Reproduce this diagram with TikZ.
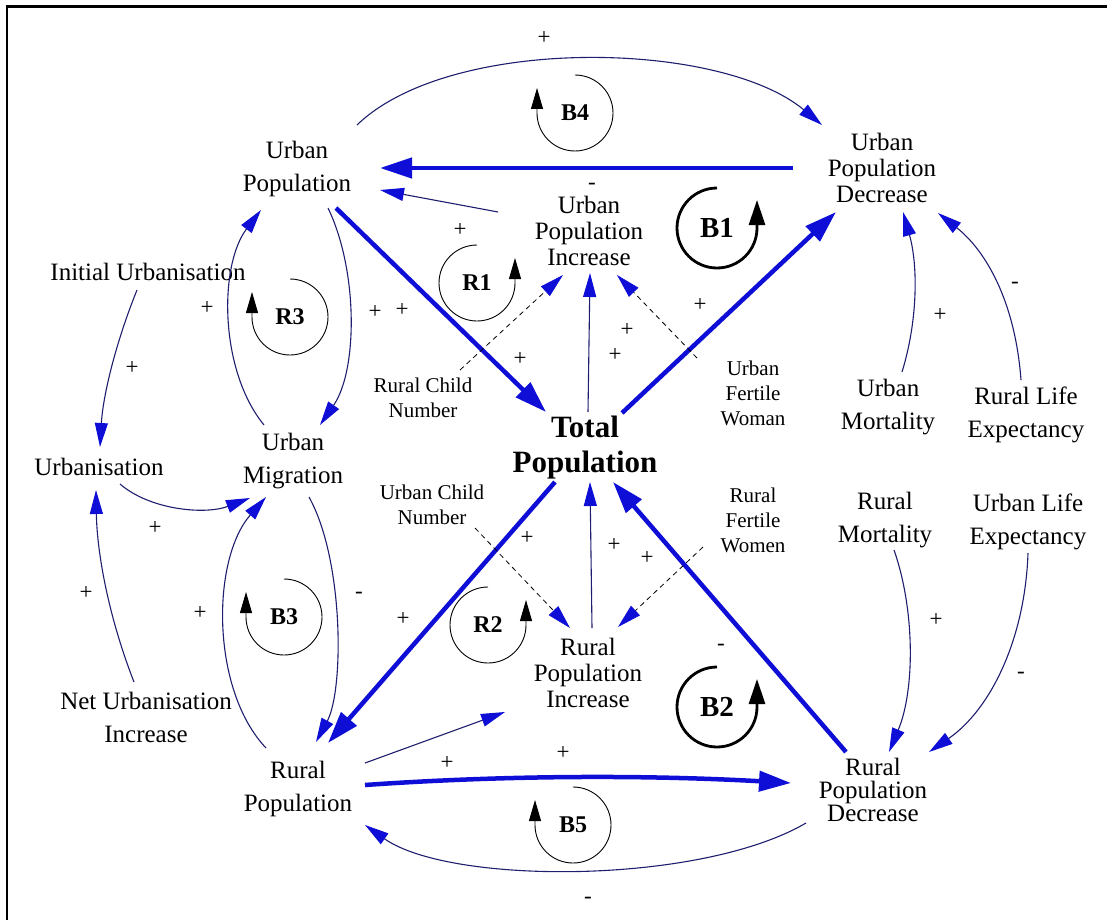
\documentclass[tikz,border=0pt]{standalone}
\usepackage{fontspec}
\setmainfont{Liberation Serif}
\usepackage{tikz}
\usetikzlibrary{arrows.meta,calc}
\definecolor{linkblue}{RGB}{14,14,214}
\definecolor{linknavy}{RGB}{30,30,110}
\tikzset{
  var/.style={align=center,inner sep=0pt,font=\fontsize{25}{33}\selectfont},
  flow/.style={var,font=\fontsize{25}{26}\selectfont},
  aux/.style={align=center,inner sep=0pt,font=\fontsize{21}{25}\selectfont},
  sgn/.style={inner sep=0pt,font=\fontsize{23}{23}\selectfont},
  looplbl/.style={inner sep=0pt,font=\fontsize{24}{24}\selectfont\bfseries},
  bigloop/.style={inner sep=0pt,font=\fontsize{29}{29}\selectfont\bfseries},
  link/.style={draw=linknavy,line width=1.1pt,
    -{Triangle[length=24pt,width=13pt,color=linkblue]}},
  mainlink/.style={draw=linkblue,line width=4.5pt,
    -{Triangle[length=32pt,width=20pt,color=linkblue]}},
  auxlink/.style={draw=black,line width=0.8pt,dash pattern=on 5pt off 4pt,
    -{Triangle[length=24pt,width=13pt,color=linkblue]}},
  loopline/.style={draw=black,line width=0.9pt},
}

\begin{document}
\begin{tikzpicture}[x=1pt,y=1pt]
  \useasboundingbox (0,0) rectangle (1107,-920);
  \draw[line width=2.2pt] (7,-920) -- (7,-6.5) -- (1107,-6.5);

  % stocks, flows and auxiliaries
  \node[var] (up) at (297,-169) {Urban\\Population};
  \node[flow] (upd) at (882,-168) {Urban\\Population\\Decrease};
  \node[flow] (upi) at (589,-231) {Urban\\Population\\Increase};
  \node[var,font=\fontsize{31}{35}\selectfont\bfseries] (tp) at (585,-448) {Total\\Population};
  \node[var] (iu) at (148,-272) {Initial Urbanisation};
  \node[var] (urb) at (99,-467) {Urbanisation};
  \node[var] (um) at (293,-461) {Urban\\Migration};
  \node[aux] (rcn) at (423,-398) {Rural Child\\Number};
  \node[aux] (ufw) at (753,-393) {Urban\\Fertile\\Woman};
  \node[var] (umo) at (888,-407) {Urban\\Mortality};
  \node[var] (rle) at (1026,-415) {Rural Life\\Expectancy};
  \node[aux] (ucn) at (432,-505) {Urban Child\\Number};
  \node[aux] (rfw) at (753,-520) {Rural\\Fertile\\Women};
  \node[var] (rmo) at (885,-520) {Rural\\Mortality};
  \node[var] (ule) at (1028,-522) {Urban Life\\Expectancy};
  \node[var] (nui) at (146,-717) {Net Urbanisation\\Increase};
  \node[var] (rp) at (298,-789) {Rural\\Population};
  \node[flow] (rpi) at (588,-673) {Rural\\Population\\Increase};
  \node[flow,font=\fontsize{25}{23}\selectfont] (rpd) at (873,-790) {Rural\\Population\\Decrease};

  % main loops
  \draw[mainlink] ($(upd)+(-89,0)$) -- ($(up)+(83,1)$);
  \draw[mainlink] ($(up)+(39,-39)$) -- ($(tp)+(-39,36)$);
  \draw[mainlink] ($(tp)+(37,35)$) -- ($(upd)+(-46,-44)$);
  \draw[mainlink] ($(tp)+(-30,-34)$) -- ($(rp)+(30,46)$);
  \draw[mainlink] ($(rp)+(67,4)$) .. controls (507,-775) and (649,-775) .. ($(rpd)+(-82,7)$);
  \draw[mainlink] ($(rpd)+(-27,38)$) -- ($(tp)+(28,-34)$);

  % thin links
  \draw[link] ($(upi)+(-91,19)$) -- ($(up)+(83,-21)$);
  \draw[link] ($(up)+(31,-39)$) .. controls (358,-270) and (358,-370) .. ($(um)+(27,36)$);
  \draw[link] ($(um)+(-29,36)$) .. controls (219,-370) and (219,-265) .. ($(up)+(-36,-41)$);
  \draw[link] ($(iu)+(-11,-18)$) .. controls (116,-342) and (103,-395) .. ($(urb)+(1,20)$);
  \draw[link] ($(urb)+(21,-17)$) .. controls (150,-510) and (205,-515) .. ($(um)+(-43,-37)$);
  \draw[link] ($(nui)+(-12,35)$) .. controls (109,-618) and (97,-554) .. ($(urb)+(-3,-23)$);
  \draw[link] ($(rp)+(-32,41)$) .. controls (211,-690) and (211,-560) .. ($(um)+(-27,-36)$);
  \draw[link] ($(um)+(16,-36)$) .. controls (344,-560) and (344,-690) .. ($(rp)+(18,47)$);
  \draw[link] ($(rp)+(67,26)$) -- ($(rpi)+(-83,-39)$);
  \draw[link] ($(rpd)+(-67,-33)$) .. controls (700,-885) and (450,-885) .. ($(rp)+(67,-36)$);
  \draw[link] ($(rpi)+(4,45)$) -- ($(tp)+(5,-34)$);
  \draw[link] ($(tp)+(3,36)$) -- ($(upi)+(1,-42)$);
  \draw[link] ($(up)+(60,44)$) .. controls (450,-35) and (720,-40) .. ($(upd)+(-60,43)$);
  \draw[link] ($(umo)+(14,35)$) .. controls (918,-320) and (918,-265) .. ($(upd)+(21,-44)$);
  \draw[link] ($(rle)+(-5,35)$) .. controls (1015,-300) and (985,-250) .. ($(upd)+(56,-45)$);
  \draw[link] ($(rmo)+(9,-30)$) .. controls (915,-610) and (915,-690) .. ($(rpd)+(16,38)$);
  \draw[link] ($(ule)+(0,-31)$) .. controls (1025,-640) and (990,-710) .. ($(rpd)+(56,38)$);

  % dashed auxiliaries
  \draw[auxlink] ($(rcn)+(37,28)$) -- ($(upi)+(-26,-44)$);
  \draw[auxlink] ($(ufw)+(-56,35)$) -- ($(upi)+(28,-44)$);
  \draw[auxlink] ($(ucn)+(43,-23)$) -- ($(rpi)+(-18,45)$);
  \draw[auxlink] ($(rfw)+(-50,-27)$) -- ($(rpi)+(30,46)$);

  % polarities
  \foreach \x/\y/\s [count=\i] in {544/-38/+, 592/-186/-, 460/-230/+, 207/-308/+,
      375/-312/+, 402/-310/+, 132/-368/+, 520/-359/+, 627/-330/+, 615/-355/+,
      700/-305/+, 940/-315/+, 1015/-285/-, 155/-528/+, 86/-593/+, 200/-613/+,
      359/-595/-, 403/-619/+, 527/-538/+, 614/-545/+, 647/-558/+, 721/-647/-,
      936/-620/+, 1021/-675/-, 447/-763/+, 563/-753/+, 588/-900/-}
    \node[sgn] (sg\i) at (\x,\y) {\s};

  % loop markers
  \foreach \nm/\x/\y in {B4/575/-113, R3/290/-317, B3/284/-617, B5/573/-825}{
    \node[looplbl] (\nm) at (\x,\y) {\nm};
    \draw[loopline,-{Triangle[length=21pt,width=12pt]}] (\nm.center) ++(0,38)
      arc[start angle=90,end angle=-180,radius=38pt] -- ++(0,25);
  }
  \foreach \nm/\x/\y in {R1/477/-283, R2/488/-625}{
    \node[looplbl] (\nm) at (\x,\y) {\nm};
    \draw[loopline,-{Triangle[length=21pt,width=12pt]}] (\nm.center) ++(0,38)
      arc[start angle=90,end angle=360,radius=38pt] -- ++(0,25);
  }
  \foreach \nm/\x/\y in {B1/717/-228, B2/717/-707}{
    \node[bigloop] (\nm) at (\x,\y) {\nm};
    \draw[loopline,line width=2.8pt,-{Triangle[length=25pt,width=16pt]}] (\nm.center) ++(0,40)
      arc[start angle=90,end angle=360,radius=40pt] -- ++(0,28);
  }
\end{tikzpicture}
\end{document}
